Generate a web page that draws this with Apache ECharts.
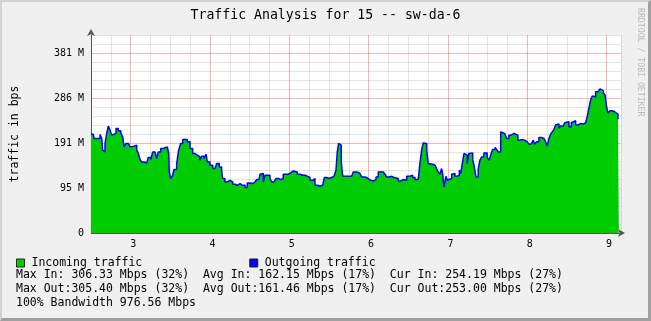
<!DOCTYPE html>
<html><head><meta charset="utf-8">
<script src="https://cdn.jsdelivr.net/npm/echarts@6/dist/echarts.min.js"></script>
<style>
html,body{margin:0;padding:0;background:#f0f0f0;}
#wrap{position:relative;width:651px;height:321px;}
#main{width:651px;height:321px;}
#frame{position:absolute;left:0;top:0;width:651px;height:321px;box-sizing:border-box;border-top:2px solid #d2d2d2;border-left:2px solid #d2d2d2;border-right:3px solid #a0a0a0;border-bottom:3px solid #a0a0a0;pointer-events:none;}
</style></head>
<body><div id="wrap"><div id="main"></div><div id="frame"></div></div>
<script>
// time of day in minutes since midnight
const times = [150.0,151.7,152.3,156.8,158.1,158.8,159.8,160.6,161.9,163.1,164.4,165.6,166.9,168.9,170.6,172.5,174.0,175.0,176.5,178.2,179.5,180.8,182.5,184.6,185.8,187.1,188.3,190.1,192.1,193.3,195.2,196.7,198.4,199.7,200.9,202.7,204.7,206.0,207.7,208.8,209.2,210.3,211.8,212.8,214.8,216.3,217.8,219.4,221.1,222.8,224.9,226.9,228.7,230.4,232.4,233.7,235.5,237.0,238.0,240.0,242.1,243.8,245.1,247.0,248.8,249.6,251.3,253.1,255.1,257.2,258.9,260.7,262.7,264.7,266.5,268.2,270.3,272.3,274.0,275.3,277.1,277.8,279.1,280.3,281.6,283.3,285.4,286.7,288.4,289.9,291.7,293.5,295.4,297.5,299.2,301.0,303.0,304.3,306.0,308.1,310.1,311.9,313.6,315.7,317.7,319.4,321.2,323.2,325.2,326.5,328.3,330.2,332.0,333.8,335.3,336.3,337.3,338.3,339.3,340.4,343.4,347.2,348.4,351.0,353.5,354.7,357.2,359.7,361.5,363.5,365.6,367.3,369.1,371.1,372.4,373.6,375.6,377.4,379.2,380.7,382.4,384.2,386.2,388.8,391.3,393.3,395.1,397.5,398.8,400.1,401.3,402.6,403.9,405.1,406.4,408.4,410.2,411.4,412.7,414.0,415.2,416.0,417.0,418.5,419.5,421.0,422.8,424.0,425.3,427.0,428.6,429.6,431.1,432.1,433.6,434.6,435.9,437.2,438.7,439.7,441.2,442.9,444.2,445.5,447.2,448.7,449.7,451.2,452.3,453.8,455.6,456.8,458.1,459.9,461.1,462.9,464.4,466.1,467.9,469.9,471.2,472.9,474.5,476.2,478.0,480.0,481.3,483.0,484.5,485.6,487.1,488.8,490.6,492.6,493.9,495.1,496.4,497.7,498.9,500.2,501.4,502.7,504.0,505.2,507.2,508.3,509.8,511.5,513.3,514.8,516.6,518.3,520.4,522.3,524.2,525.4,526.6,527.9,529.2,530.4,531.7,533.5,535.0,536.0,537.5,538.8,540.0,541.0,542.5,544.3,546.1,547.6,548.6,549.3];
// Mbps (displayed as M)
const inValues = [209.8,207.7,200.7,209.2,200.7,175.8,172.2,190.1,211.3,226.8,218.3,207.7,211.3,222.0,216.9,212.6,204.1,182.8,190.1,191.3,182.8,184.3,186.5,175.8,168.8,156.0,150.9,148.8,150.9,160.3,156.0,172.2,174.3,158.2,172.2,179.4,175.8,182.8,184.3,168.8,129.7,115.7,122.7,134.8,147.5,175.8,190.1,198.6,198.6,193.5,179.4,168.8,165.2,161.6,154.6,163.1,158.2,167.3,150.9,143.9,136.9,140.3,147.5,140.3,133.3,115.7,108.4,112.0,108.4,103.5,101.4,105.0,101.4,101.4,96.5,106.3,105.0,108.4,108.4,113.5,113.5,124.8,126.3,108.4,122.7,122.7,115.7,108.4,112.0,115.7,113.5,115.7,124.8,124.8,127.6,131.8,133.3,129.7,124.8,122.7,122.7,120.5,117.8,112.0,115.7,101.4,99.3,101.4,103.5,117.8,115.7,117.8,120.5,122.7,133.3,172.2,190.1,186.5,150.9,120.5,120.5,122.0,129.7,126.3,122.7,119.1,115.7,112.0,110.6,113.5,119.1,129.7,129.7,131.8,124.8,119.1,120.5,117.8,120.5,115.7,110.6,113.5,112.0,120.5,122.7,117.8,113.5,113.5,147.5,175.8,191.3,190.1,175.8,147.5,146.1,143.9,141.8,136.9,129.7,124.8,136.9,126.3,97.8,120.5,112.0,115.7,124.8,126.3,120.5,122.7,133.3,126.3,150.9,168.8,165.2,147.5,168.8,170.1,156.0,143.9,119.1,136.9,154.6,161.6,170.1,170.1,160.3,154.6,165.2,177.3,181.6,177.3,172.2,214.7,211.3,209.8,200.7,207.7,211.3,209.8,207.7,197.1,198.6,197.1,193.5,191.3,188.6,186.5,197.1,188.6,193.5,202.8,200.7,198.6,193.5,184.3,200.7,209.8,214.7,219.8,229.0,231.1,222.0,226.8,225.4,233.9,236.0,225.4,233.9,238.1,229.0,232.6,231.1,233.9,238.1,248.1,264.5,282.1,290.6,289.1,299.8,303.4,306.3,301.9,297.6,292.8,267.9,253.8,259.4,257.2,253.8,252.4,243.2,243.2];
const outValues = [209.5,207.4,200.4,208.9,200.4,175.5,171.9,189.8,211.0,226.5,218.0,207.4,211.0,221.7,216.6,212.3,203.8,182.5,189.8,191.0,182.5,184.0,186.2,175.5,168.5,155.7,150.6,148.5,150.6,160.0,155.7,171.9,174.0,157.9,171.9,179.1,175.5,182.5,184.0,168.5,129.4,115.4,122.4,134.5,147.2,175.5,189.8,198.3,198.3,193.2,179.1,168.5,164.9,161.3,154.3,162.8,157.9,167.0,150.6,143.6,136.6,140.0,147.2,140.0,133.0,115.4,108.1,111.7,108.1,103.2,101.1,104.7,101.1,101.1,96.2,106.0,104.7,108.1,108.1,113.2,113.2,124.5,126.0,108.1,122.4,122.4,115.4,108.1,111.7,115.4,113.2,115.4,124.5,124.5,127.3,131.5,133.0,129.4,124.5,122.4,122.4,120.2,117.5,111.7,115.4,101.1,99.0,101.1,103.2,117.5,115.4,117.5,120.2,122.4,133.0,171.9,189.8,186.2,150.6,120.2,120.2,121.7,129.4,126.0,122.4,118.8,115.4,111.7,110.3,113.2,118.8,129.4,129.4,131.5,124.5,118.8,120.2,117.5,120.2,115.4,110.3,113.2,111.7,120.2,122.4,117.5,113.2,113.2,147.2,175.5,191.0,189.8,175.5,147.2,145.8,143.6,141.5,136.6,129.4,124.5,136.6,126.0,97.5,120.2,111.7,115.4,124.5,126.0,120.2,122.4,133.0,126.0,150.6,168.5,164.9,147.2,168.5,169.8,155.7,143.6,118.8,136.6,154.3,161.3,169.8,169.8,160.0,154.3,164.9,177.0,181.3,177.0,171.9,214.4,211.0,209.5,200.4,207.4,211.0,209.5,207.4,196.8,198.3,196.8,193.2,191.0,188.3,186.2,196.8,188.3,193.2,202.5,200.4,198.3,193.2,184.0,200.4,209.5,214.4,219.5,228.7,230.8,221.7,226.5,225.1,233.6,235.7,225.1,233.6,237.8,228.7,232.3,230.8,233.6,237.8,247.8,264.2,281.8,290.3,288.8,299.5,303.1,305.4,301.6,297.3,292.5,267.6,253.5,259.1,256.9,253.5,252.1,242.9,242.9];

const xTickLabels = ['3','4','5','6','7','8','9'];
const yTickLabels = ['0','95 M','191 M','286 M','381 M'];
const legendNames = ['Incoming traffic','Outgoing traffic'];
const statLines = [
  'Max In: 306.33 Mbps (32%)  Avg In: 162.15 Mbps (17%)  Cur In: 254.19 Mbps (27%)',
  'Max Out:305.40 Mbps (32%)  Avg Out:161.46 Mbps (17%)  Cur Out:253.00 Mbps (27%)',
  '100% Bandwidth 976.56 Mbps'
];
const titleText = 'Traffic Analysis for 15 -- sw-da-6';
const sideText = 'RRDTOOL / TOBI OETIKER';
const yAxisName = 'traffic in bps';

const MONO = '"DejaVu Sans Mono", "Liberation Mono", monospace';
const yMajor = 100 * 1000000 / 1048576; // 95.367 M
const yMinor = yMajor / 5;
const yMax = 22 * yMinor;
const xMin = 150, xMax = 550.9, xMinor = 15;
const GRAY = 'rgba(120,120,120,0.2)';
const RED = 'rgba(255,0,0,0.3)';

const n = Math.min(times.length, inValues.length, outValues.length);
const inData = [], outData = [];
for (let i = 0; i < n; i++) { inData.push([times[i], inValues[i]]); outData.push([times[i], outValues[i]]); }

const chart = echarts.init(document.getElementById('main'), null, {renderer: 'canvas'});
chart.setOption({
  animation: false,
  backgroundColor: '#f0f0f0',
  textStyle: {fontFamily: MONO},
  title: {
    text: titleText, left: 'center', top: 9, padding: 0,
    textStyle: {fontFamily: MONO, fontSize: 13.2, fontWeight: 'normal', color: '#000'}
  },
  grid: {left: 91, right: 30, top: 35, bottom: 88, show: true, backgroundColor: '#ffffff', borderWidth: 0, containLabel: false},
  legend: {
    left: 16, top: 257, padding: 0, icon: 'rect', itemWidth: 8, itemHeight: 8, itemGap: 107,
    selectedMode: false, data: legendNames,
    itemStyle: {borderColor: '#222', borderWidth: 1},
    textStyle: {fontFamily: MONO, fontSize: 11.5, color: '#000', padding: [0, 0, 0, 2]}
  },
  xAxis: {
    type: 'value', min: xMin, max: xMax, interval: xMinor,
    axisLine: {show: true, onZero: false, lineStyle: {color: '#555', width: 1},
      symbol: ['none', 'arrow'], symbolSize: [6, 7], symbolOffset: [0, 4]},
    axisTick: {show: false},
    axisLabel: {
      color: '#000', fontFamily: MONO, fontSize: 10, margin: 6, padding: [0, 0, 0, 5],
      formatter: function (v) {
        const r = Math.round(v);
        if (Math.abs(v - r) > 1e-6 || (r - 180) % 60 !== 0) return '';
        const k = (r - 180) / 60;
        return (k >= 0 && k < xTickLabels.length) ? xTickLabels[k] : '';
      }
    },
    splitLine: {show: true, lineStyle: {width: 1, color: [GRAY, GRAY, RED, GRAY]}}
  },
  yAxis: {
    type: 'value', min: 0, max: yMax, interval: yMinor,
    name: yAxisName, nameLocation: 'middle', nameGap: 70,
    nameTextStyle: {fontFamily: MONO, fontSize: 11.5, color: '#000'},
    axisLine: {show: true, lineStyle: {color: '#555', width: 1},
      symbol: ['none', 'arrow'], symbolSize: [6, 7], symbolOffset: [0, 6]},
    axisTick: {show: false},
    axisLabel: {
      color: '#000', fontFamily: MONO, fontSize: 10, margin: 7,
      formatter: function (v) {
        const k = Math.round(v / yMinor);
        if (Math.abs(v - k * yMinor) > 1e-6 || k % 5 !== 0) return '';
        const j = k / 5;
        return j < yTickLabels.length ? yTickLabels[j] : '';
      }
    },
    splitLine: {show: true, lineStyle: {width: 1, color: [RED, GRAY, GRAY, GRAY, GRAY]}}
  },
  series: [
    {
      name: legendNames[0], type: 'line', step: 'end', data: inData, z: 2,
      showSymbol: false, symbol: 'none', color: '#00cc00',
      itemStyle: {color: '#00cc00'},
      lineStyle: {width: 0, color: '#00cc00'},
      areaStyle: {color: '#00cc00', opacity: 1}
    },
    {
      name: legendNames[1], type: 'line', step: 'end', data: outData, z: 4,
      showSymbol: false, symbol: 'none', color: '#0000ff',
      itemStyle: {color: '#0000ff'},
      lineStyle: {width: 1.5, color: '#0000ff'}
    }
  ],
  graphic: [
    {type: 'text', x: 16, y: 275, silent: true, style: {text: statLines[0], font: '11.5px ' + MONO, fill: '#000', align: 'left', verticalAlign: 'middle'}},
    {type: 'text', x: 16, y: 289, silent: true, style: {text: statLines[1], font: '11.5px ' + MONO, fill: '#000', align: 'left', verticalAlign: 'middle'}},
    {type: 'text', x: 16, y: 303, silent: true, style: {text: statLines[2], font: '11.5px ' + MONO, fill: '#000', align: 'left', verticalAlign: 'middle'}},
    {type: 'text', x: 640, y: 8, rotation: -Math.PI / 2, silent: true, style: {text: sideText, font: '8.2px ' + MONO, fill: '#b8b8b8', align: 'left', verticalAlign: 'middle'}}
  ]
});
</script>
</body></html>
